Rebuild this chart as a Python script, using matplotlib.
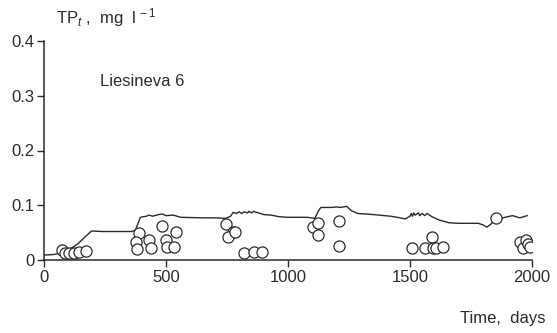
import numpy as np
import matplotlib.pyplot as plt

plt.rcParams['font.family'] = ['Liberation Sans', 'DejaVu Sans']
plt.rcParams['mathtext.fontset'] = 'custom'
plt.rcParams['mathtext.rm'] = 'Liberation Sans'
plt.rcParams['mathtext.it'] = 'Liberation Sans:italic'

ink = '#2b2b2b'

# simulated total phosphorus (days, mg/l)
sim_days = [0, 40, 70, 100, 140, 175, 195, 240, 300, 360, 375, 395, 420, 430, 445,
            470, 485, 500, 530, 560, 650, 700, 745, 765, 775, 790, 800, 810, 820,
            835, 840, 850, 860, 870, 880, 900, 930, 965, 1000, 1080, 1110, 1125,
            1135, 1180, 1200, 1215, 1240, 1260, 1285, 1350, 1420, 1460, 1480, 1500,
            1505, 1510, 1515, 1520, 1535, 1540, 1550, 1560, 1570, 1590, 1620, 1660,
            1700, 1780, 1800, 1815, 1830, 1850, 1880, 1920, 1935, 1950, 1980]
sim_tp = [0.009, 0.010, 0.013, 0.018, 0.030, 0.045, 0.053, 0.052, 0.052, 0.052,
          0.055, 0.078, 0.080, 0.082, 0.080, 0.083, 0.084, 0.081, 0.082, 0.078,
          0.077, 0.077, 0.076, 0.080, 0.087, 0.085, 0.088, 0.085, 0.088, 0.086,
          0.089, 0.086, 0.089, 0.087, 0.086, 0.083, 0.082, 0.079, 0.078, 0.078,
          0.076, 0.090, 0.096, 0.096, 0.097, 0.096, 0.098, 0.090, 0.085, 0.083,
          0.080, 0.077, 0.075, 0.080, 0.085, 0.080, 0.086, 0.082, 0.086, 0.081,
          0.085, 0.081, 0.085, 0.079, 0.073, 0.068, 0.067, 0.067, 0.064, 0.060,
          0.065, 0.074, 0.077, 0.081, 0.079, 0.077, 0.081]

# observed total phosphorus
obs_days = [74, 86, 103, 123, 144, 172,
            390, 378, 382, 431, 439, 485, 542, 501, 505, 534,
            747, 776, 756, 784,
            821, 862, 895,
            1101, 1121, 1121, 1211, 1211,
            1507, 1561, 1589, 1593, 1606, 1635,
            1852,
            1950, 1962, 1975, 1985, 1993]
obs_tp = [0.018, 0.013, 0.013, 0.013, 0.015, 0.016,
          0.049, 0.033, 0.020, 0.036, 0.022, 0.062, 0.051, 0.036, 0.024, 0.024,
          0.065, 0.051, 0.042, 0.051,
          0.013, 0.015, 0.015,
          0.060, 0.067, 0.045, 0.071, 0.025,
          0.022, 0.022, 0.042, 0.022, 0.022, 0.024,
          0.076,
          0.032, 0.022, 0.036, 0.030, 0.024]

fig = plt.figure(figsize=(5.57, 3.33), dpi=100)
ax = fig.add_axes([44 / 557, 73 / 333, 488 / 557, 219 / 333])

ax.plot(sim_days, sim_tp, color=ink, lw=1.0)
ax.plot(obs_days, obs_tp, 'o', ms=8, mfc='white', mec=ink, mew=0.9)

ax.set_xlim(0, 2000)
ax.set_ylim(0, 0.4)
ax.set_xticks([0, 500, 1000, 1500, 2000])
ax.set_yticks([0, 0.1, 0.2, 0.3, 0.4])
ax.set_yticklabels(['0', '0.1', '0.2', '0.3', '0.4'])

for s in ['top', 'right']:
    ax.spines[s].set_visible(False)
for s in ['left', 'bottom']:
    ax.spines[s].set_color(ink)
    ax.spines[s].set_linewidth(1.1)
ax.tick_params(colors=ink, labelcolor=ink, labelsize=12, length=5, width=1.0, pad=2)

fig.text(56 / 557, 1 - 18 / 333, r'TP$_t$ ,  mg  l$^{\,-1}$', color=ink,
         fontsize=12, va='center', ha='left')
fig.text(100 / 557, 1 - 82 / 333, 'Liesineva 6', color=ink, fontsize=12,
         va='center', ha='left')
fig.text(546 / 557, 1 - 318 / 333, 'Time,  days', color=ink, fontsize=12,
         va='center', ha='right')

fig.savefig('out.png', dpi=100)
